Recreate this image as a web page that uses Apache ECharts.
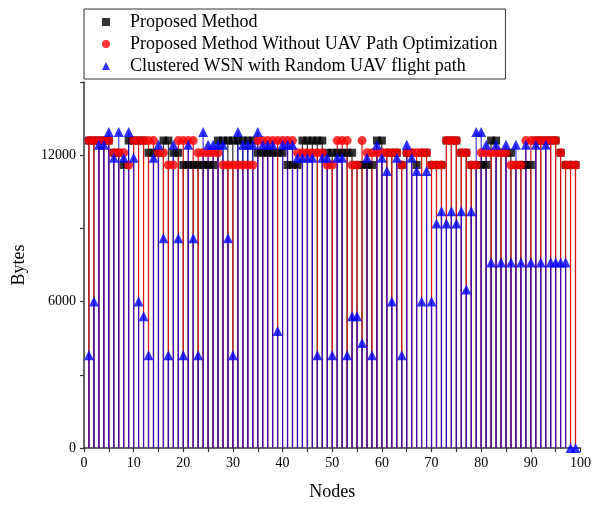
<!DOCTYPE html>
<html>
<head>
<meta charset="utf-8">
<script src="https://cdn.jsdelivr.net/npm/echarts@6/dist/echarts.min.js"></script>
<style>
  html, body { margin: 0; padding: 0; background: #fff; }
  #chart { width: 594px; height: 506px; }
</style>
</head>
<body>
<div id="chart"></div>
<script>
// node ids 1..99
var nodes = [];
for (var i = 1; i <= 99; i++) nodes.push(i);

// Proposed Method
var proposed = [
  12600, 12600, 12600, 12600, 12600, 12100, 12100, 11600, 12600, 12600,
  12600, 12600, 12100, 12100, 12100, 12600, 12600, 12100, 12100, 11600,
  11600, 11600, 11600, 11600, 11600, 11600, 12600, 12600, 12600, 12600,
  12600, 12600, 12600, 12600, 12100, 12100, 12100, 12100, 12100, 12100,
  11600, 11600, 11600, 12600, 12600, 12600, 12600, 12600, 12100, 12100,
  12100, 12100, 12100, 12100, 11600, 11600, 11600, 11600, 12600, 12600,
  12100, 12100, 12100, 11600, 12100, 12100, 11600, 12100, 12100, 11600,
  11600, 11600, 12600, 12600, 12600, 12100, 12100, 11600, 11600, 11600,
  11600, 12600, 12600, 12100, 12100, 12100, 11600, 11600, 11600, 11600,
  12600, 12600, 12600, 12600, 12600, 12100, 11600, 11600, 11600
];

// Proposed Method Without UAV Path Optimization
var noPathOpt = [
  12600, 12600, 12600, 12600, 12600, 12100, 12100, 12100, 11600, 12600,
  12600, 12600, 12600, 12600, 12100, 12100, 11600, 11600, 12600, 12600,
  12600, 12600, 12100, 12100, 12100, 12100, 12100, 11600, 11600, 11600,
  11600, 11600, 11600, 11600, 12600, 12600, 12600, 12600, 12600, 12600,
  12600, 12600, 12100, 12100, 12100, 12100, 12100, 12100, 11600, 11600,
  12600, 12600, 12600, 11600, 11600, 12600, 12100, 12100, 12100, 12100,
  12100, 12100, 12100, 11600, 12100, 12100, 12100, 12100, 12100, 11600,
  11600, 11600, 12600, 12600, 12600, 12100, 12100, 11600, 11600, 12100,
  12100, 12100, 12100, 12100, 12100, 11600, 11600, 11600, 12600, 12600,
  12600, 12600, 12600, 12600, 12600, 12100, 11600, 11600, 11600
];

// Clustered WSN with Random UAV flight path
var randomPath = [
  3800, 6000, 12430, 12430, 12950, 11900, 12950, 11900, 12950, 11900,
  6000, 5400, 3800, 11900, 12430, 8600, 3800, 12430, 8600, 3800,
  12430, 8600, 3800, 12950, 12430, 12430, 12430, 12430, 8600, 3800,
  12950, 12430, 12430, 12430, 12950, 12430, 12430, 12430, 4800, 12430,
  12430, 12430, 11900, 11900, 11900, 11900, 3800, 11900, 11900, 3800,
  11900, 11900, 3800, 5400, 5400, 4300, 11900, 3800, 12430, 11900,
  11350, 6000, 11900, 3800, 12430, 11900, 11350, 6000, 11350, 6000,
  9200, 9700, 9200, 9700, 9200, 9700, 6500, 9700, 12950, 12950,
  12430, 7600, 12430, 7600, 12430, 7600, 12430, 7600, 12430, 7600,
  12430, 7600, 12430, 7600, 7600, 7600, 7600, 0, 0
];

var yTicks = [0, 6000, 12000];

function pairs(vals) {
  return nodes.map(function (n, i) { return [n, vals[i]]; });
}

var myChart = echarts.init(document.getElementById('chart'));
var serifFont = '"Liberation Serif", "Times New Roman", serif';

var option = {
  animation: false,
  textStyle: { fontFamily: serifFont },
  legend: {
    orient: 'vertical',
    left: 84,
    top: 9,
    padding: [4, 8, 4, 18],
    itemGap: 4,
    itemWidth: 8,
    itemHeight: 8,
    borderColor: '#333',
    borderWidth: 1,
    textStyle: { fontFamily: serifFont, fontSize: 18, color: '#000', padding: [0, 0, 0, 15] },
    data: [
      { name: 'Proposed Method', icon: 'rect', itemStyle: { color: '#000' } },
      { name: 'Proposed Method Without UAV Path Optimization', icon: 'circle', itemStyle: { color: '#f00' } },
      { name: 'Clustered WSN with Random UAV flight path', icon: 'triangle', itemStyle: { color: '#00f' } }
    ]
  },
  grid: { left: 84, right: 11, top: 82, bottom: 57 },
  xAxis: {
    type: 'value',
    min: 0,
    max: 100,
    interval: 5,
    name: 'Nodes',
    nameLocation: 'middle',
    nameGap: 35,
    nameTextStyle: { fontFamily: serifFont, fontSize: 18, color: '#000' },
    splitLine: { show: false },
    axisLine: { onZero: false, lineStyle: { color: '#333', width: 1.5 } },
    axisTick: { length: 4, lineStyle: { color: '#333', width: 1.2 } },
    axisLabel: {
      margin: 8,
      fontSize: 14,
      color: '#000',
      fontFamily: serifFont,
      formatter: function (v) { return v % 10 === 0 ? String(v) : ''; }
    }
  },
  yAxis: {
    type: 'value',
    min: 0,
    max: 15000,
    interval: 3000,
    name: 'Bytes',
    nameLocation: 'middle',
    nameGap: 56,
    nameRotate: 90,
    nameTextStyle: { fontFamily: serifFont, fontSize: 18, color: '#000' },
    splitLine: { show: false },
    axisLine: { show: true, lineStyle: { color: '#333', width: 1.5 } },
    axisTick: { show: true, length: 4, lineStyle: { color: '#333', width: 1.2 } },
    axisLabel: {
      margin: 8,
      fontSize: 14,
      color: '#000',
      fontFamily: serifFont,
      formatter: function (v) { return yTicks.indexOf(v) >= 0 ? String(v) : ''; }
    }
  },
  series: [
    {
      name: 'stem-black', type: 'bar', barWidth: 1, barGap: '-100%',
      itemStyle: { color: '#000' }, data: pairs(proposed), z: 1
    },
    {
      name: 'stem-red', type: 'bar', barWidth: 1.2, barGap: '-100%',
      itemStyle: { color: '#e01010' }, data: pairs(noPathOpt), z: 2
    },
    {
      name: 'stem-blue', type: 'bar', barWidth: 1.2, barGap: '-100%',
      itemStyle: { color: '#0000ff', opacity: 0.75 }, data: pairs(randomPath), z: 3
    },
    {
      name: 'Proposed Method', type: 'scatter', symbol: 'rect', symbolSize: 8,
      itemStyle: { color: '#000' }, data: pairs(proposed), z: 4
    },
    {
      name: 'Proposed Method Without UAV Path Optimization', type: 'scatter', symbol: 'circle', symbolSize: 9,
      itemStyle: { color: '#f00' }, data: pairs(noPathOpt), z: 5
    },
    {
      name: 'Clustered WSN with Random UAV flight path', type: 'scatter', symbol: 'triangle', symbolSize: 10,
      itemStyle: { color: '#00f' }, data: pairs(randomPath), z: 6
    }
  ]
};

myChart.setOption(option);
window.addEventListener('resize', function () {
  myChart.resize();
});
</script>
</body>
</html>
